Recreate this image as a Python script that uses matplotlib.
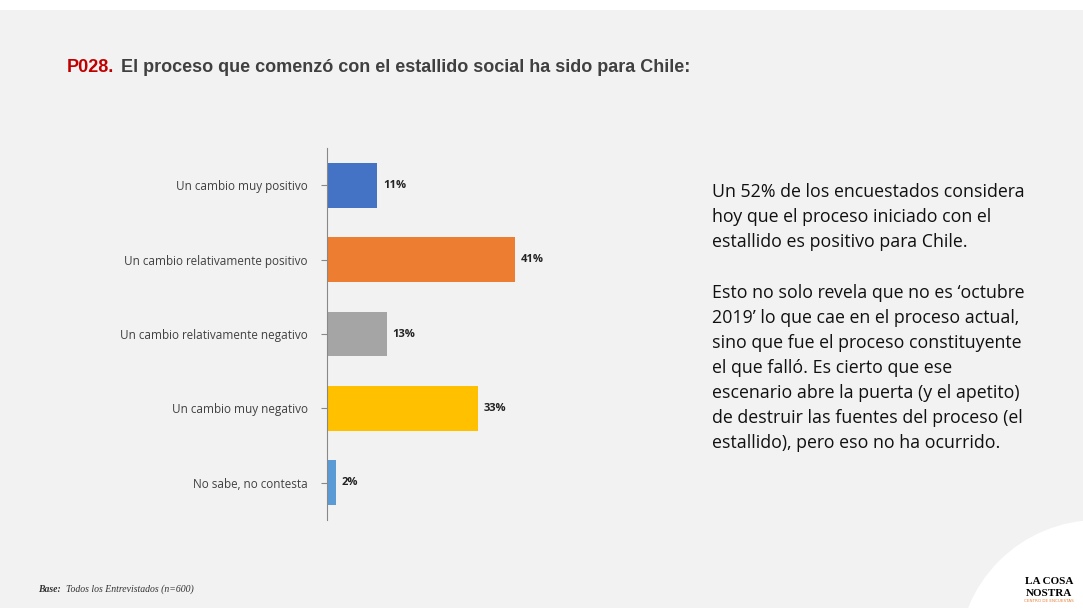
import matplotlib
matplotlib.use("Agg")
import matplotlib.pyplot as plt
from matplotlib.patches import Circle, Rectangle

categories = ["Un cambio muy positivo", "Un cambio relativamente positivo",
              "Un cambio relativamente negativo", "Un cambio muy negativo",
              "No sabe, no contesta"]
values = [11, 41, 13, 33, 2]
colors = ["#4472c4", "#ed7d31", "#a5a5a5", "#ffc000", "#5b9bd5"]

fig = plt.figure(figsize=(10.83, 6.15), dpi=100)
fig.patch.set_facecolor("white")
bg = Rectangle((0, 0.012), 1, 0.972, transform=fig.transFigure, facecolor="#f2f2f2", edgecolor="none", zorder=-10)
fig.add_artist(bg)
circ = Circle((1083 + 15, 615 - 660), 140, transform=None, facecolor="white", edgecolor="none", zorder=-9)
fig.add_artist(circ)

ax = fig.add_axes([327/1083, 1-520/615, 229/1083, 372/615])
ax.set_facecolor("none")
y = list(range(len(categories)))
ax.barh(y, values, height=0.6, color=colors)
for yi, v in zip(y, values):
    ax.text(v + 1.2, yi, f"{v}%", va="center", ha="left", fontsize=8, fontweight="bold", family="Open Sans", color="#222")
ax.set_xlim(0, 50)
ax.set_ylim(4.5, -0.5)
ax.set_yticks(y)
ax.set_yticklabels(categories, fontsize=8.5, family="Open Sans", color="#404040")
ax.tick_params(axis="y", length=4, color="#888", pad=10)
ax.set_xticks([])
for s in ["top", "right", "bottom"]:
    ax.spines[s].set_visible(False)
ax.spines["left"].set_color("#888")

fig.text(67/1083, 1-67/615, "P028.", color="#c00000", fontsize=13, fontweight="bold", family="Liberation Sans", va="center")
fig.text(121/1083, 1-67/615, "El proceso que comenzó con el estallido social ha sido para Chile:",
         color="#404040", fontsize=13, fontweight="bold", family="Liberation Sans", va="center")

txt = ("Un 52% de los encuestados considera\nhoy que el proceso iniciado con el\nestallido es positivo para Chile.\n\n"
       "Esto no solo revela que no es ‘octubre\n2019’ lo que cae en el proceso actual,\nsino que fue el proceso constituyente\n"
       "el que falló. Es cierto que ese\nescenario abre la puerta (y el apetito)\nde destruir las fuentes del proceso (el\nestallido), pero eso no ha ocurrido.")
fig.text(712/1083, 1-183/615, txt, fontsize=12.8, family="Open Sans", color="#111", va="top", linespacing=1.51)

fig.text(38/1083, 1-589/615, "Base:", fontsize=7, family="Liberation Serif", style="italic", fontweight="bold", color="#333", va="center")
fig.text(66/1083, 1-589/615, "Todos los Entrevistados (n=600)", fontsize=7, family="Liberation Serif", style="italic", color="#333", va="center")

fig.text(1049/1083, 1-582/615, "LA COSA", fontsize=8, fontweight="bold", family="Liberation Serif", ha="center", va="center")
fig.text(1049/1083, 1-593/615, "NOSTRA", fontsize=8, fontweight="bold", family="Liberation Serif", ha="center", va="center")
fig.text(1049/1083, 1-601/615, "CENTRO DE ENCUESTAS", fontsize=3, color="#ed7d31", family="DejaVu Sans", ha="center", va="center")

fig.savefig("out.png", dpi=100, facecolor=fig.get_facecolor())
